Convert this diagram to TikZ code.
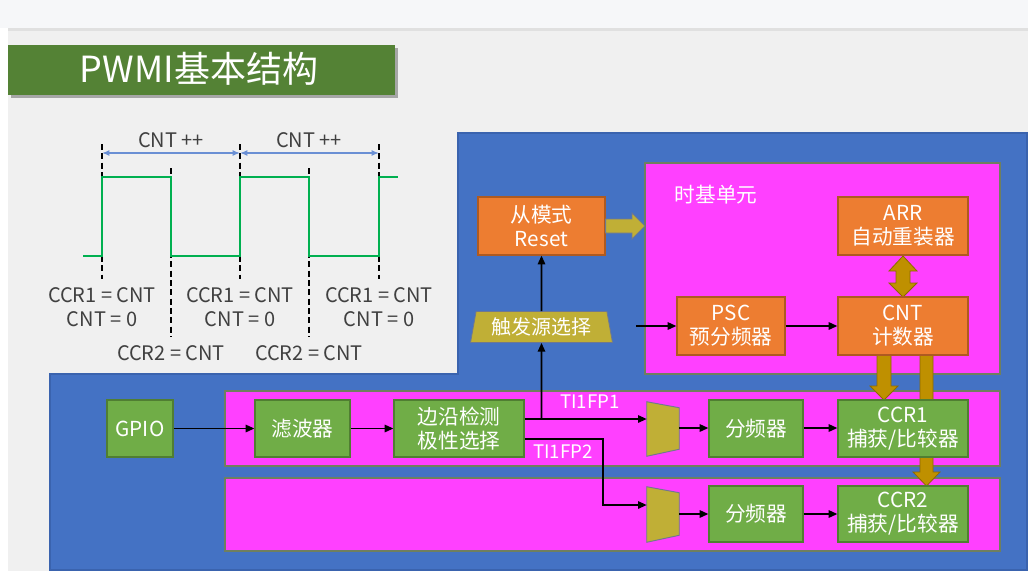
\documentclass[tikz,border=0pt]{standalone}
\usepackage{fontspec}
\setmainfont{Noto Sans CJK SC}
\usetikzlibrary{arrows.meta,shapes.geometric,calc}
\definecolor{bgc}{HTML}{F0F0F0}
\definecolor{topc}{HTML}{F6F7F9}
\definecolor{titleg}{HTML}{548235}
\definecolor{blu}{HTML}{4472C4}
\definecolor{blud}{HTML}{3A63AE}
\definecolor{mag}{HTML}{FF40FF}
\definecolor{magb}{HTML}{6F7F5F}
\definecolor{org}{HTML}{ED7D31}
\definecolor{orgb}{HTML}{AE5A21}
\definecolor{grn}{HTML}{70AD47}
\definecolor{grnb}{HTML}{507E32}
\definecolor{olv}{HTML}{C0AF36}
\definecolor{olvb}{HTML}{6F7890}
\definecolor{gld}{HTML}{BF9000}
\definecolor{gldb}{HTML}{8C6A00}
\definecolor{sig}{HTML}{00B050}
\definecolor{dim}{HTML}{6A8FD4}
\definecolor{txt}{HTML}{404040}
\begin{document}
\begin{tikzpicture}[x=0.75pt,y=-0.75pt,
  blk/.style={draw=#1b, fill=#1, line width=0.9pt, text=white, align=center, inner sep=0pt,
    font=\fontsize{15.5}{18}\selectfont},
  wh/.style 2 args={minimum width={#1*0.75pt}, minimum height={#2*0.75pt}},
  sig/.style={draw=black, line width=1.3pt, -{Triangle[length=6.5pt,width=5.5pt]}},
  vdash/.style={draw=black, line width=1.2pt, dash pattern=on 4.5pt off 2.5pt},
  wave/.style={draw=sig, line width=1.6pt},
  dimarr/.style={draw=dim, line width=1pt, {Latex[length=5.5pt,width=4.5pt]}-{Latex[length=5.5pt,width=4.5pt]}},
  tlab/.style={text=txt, font=\fontsize{15}{18}\selectfont, align=center, inner sep=0pt},
  wlab/.style={text=white, inner sep=0pt},
  fatarrow/.style={fill=gld, draw=gldb, line width=0.6pt},
  ]
\useasboundingbox (0,0) rectangle (1028,571);
% background
\fill[bgc] (0,0) rectangle (1028,571);
\fill[topc] (0,0) rectangle (1028,28);
\fill[white] (0,28) rectangle (8,571);
\fill[black!12] (8,28) rectangle (1028,31);
% title
\fill[black!35] (11,48) rectangle (398,98);
\node[fill=titleg, minimum width={387*0.75pt}, minimum height={50*0.75pt}, inner sep=0pt, anchor=north west] (title) at (8,45) {};
\node[text=white, font=\fontsize{27}{30}\selectfont] (titletext) at (199,69) {PWMI基本结构};
% blue region
\fill[blu, draw=blud, line width=0.8pt] (458,133) -- (1027,133) -- (1027,570) -- (50,570) -- (50,374) -- (458,374) -- cycle;
% magenta panels
\draw[fill=mag, draw=magb, line width=0.8pt] (645,163) rectangle (1000,374);
\draw[fill=mag, draw=magb, line width=0.8pt] (225,391) rectangle (1000,466);
\draw[fill=mag, draw=magb, line width=0.8pt] (225,478) rectangle (1000,551);
\node[wlab, font=\fontsize{15.5}{18}\selectfont] (tbl) at (716,195) {时基单元};
% timing diagram
\foreach \x in {102,240,379}{
  \draw[vdash] (\x,144) -- (\x,279);
}
\foreach \x in {171,309}{
  \draw[vdash] (\x,168) -- (\x,337);
}
\draw[wave] (83,256) -- (102,256) -- (102,177) -- (171,177) -- (171,256) -- (240,256) -- (240,177) -- (309,177) -- (309,256) -- (379,256) -- (379,177) -- (398,177);
\coordinate (d1) at (102,153);
\coordinate (d2) at (240,153);
\coordinate (d3) at (379,153);
\draw[dimarr] (d1) -- (d2);
\draw[dimarr] (d2) -- (d3);
\node[tlab] (cp1) at (171,140) {CNT ++};
\node[tlab] (cp2) at (309,140) {CNT ++};
\foreach \x/\n in {102/1,240/2,379/3}{
  \node[tlab] (ccr1l\n) at (\x,295) {CCR1 = CNT};
  \node[tlab] (cnt0l\n) at (\x,319) {CNT = 0};
}
\node[tlab] (ccr2l1) at (171,353) {CCR2 = CNT};
\node[tlab] (ccr2l2) at (309,353) {CCR2 = CNT};
% fat arrows (drawn first so boxes cover their ends)
\fill[fatarrow] (903,256) -- (917,271) -- (910,271) -- (910,283) -- (917,283) -- (903,297) -- (889,283) -- (896,283) -- (896,271) -- (889,271) -- cycle;
\fill[fatarrow] (920,350) -- (933,350) -- (933,472) -- (940,472) -- (926.5,486) -- (913,472) -- (920,472) -- cycle;
\fill[fatarrow] (877,350) -- (891,350) -- (891,386) -- (898,386) -- (884,400) -- (870,386) -- (877,386) -- cycle;
% orange boxes
\node[blk=org, wh={127}{58}] (slave) at (541.5,226) {从模式\\Reset};
\node[blk=org, wh={130}{58}] (arr) at (903,226) {ARR\\自动重装器};
\node[blk=org, wh={108}{58}] (psc) at (731,326) {PSC\\预分频器};
\node[blk=org, wh={130}{58}] (cnt) at (903,326) {CNT\\计数器};
% trigger select
\node[trapezium, trapezium stretches=true, trapezium left angle=77, trapezium right angle=77,
  minimum width={143*0.75pt}, minimum height={31*0.75pt}, inner sep=0pt,
  fill=olv, draw=olvb, line width=0.6pt, text=white, font=\fontsize{15}{18}\selectfont] (trig) at (541.5,327) {触发源选择};
% green boxes
\node[blk=grn, wh={66}{57}] (gpio) at (140,428.5) {GPIO};
\node[blk=grn, wh={95}{57}] (filt) at (302.5,428.5) {滤波器};
\node[blk=grn, wh={130}{57}] (edge) at (459,428.5) {边沿检测\\极性选择};
\node[blk=grn, wh={94}{57}] (div1) at (756,428.5) {分频器};
\node[blk=grn, wh={130}{57}] (ccr1) at (903,428.5) {CCR1\\捕获/比较器};
\node[blk=grn, wh={94}{56}] (div2) at (756,514) {分频器};
\node[blk=grn, wh={130}{56}] (ccr2) at (903,514) {CCR2\\捕获/比较器};
% muxes
\node[inner sep=0pt, wh={32}{54}] (mux1) at (663,429) {};
\node[inner sep=0pt, wh={32}{55}] (mux2) at (663,514.5) {};
\foreach \m in {mux1,mux2}{
  \fill[olv, draw=olvb, line width=0.7pt] (\m.north west) -- ($(\m.north east)+(0,6)$) -- ($(\m.south east)+(0,-7)$) -- (\m.south west) -- cycle;
}
% fat arrow slave -> time base
\fill[olv, draw=olvb, line width=0.6pt] (slave.east |- 0,219) -- (632,219) -- (632,213) -- (645,226) -- (632,239) -- (632,233) -- (slave.east |- 0,233) -- cycle;
% signal connectors
\draw[sig] (gpio) -- (filt);
\draw[sig] (filt) -- (edge);
\coordinate (tap) at (541.5,419);
\draw[sig] (edge.east |- tap) -- (mux1.west |- tap);
\draw[sig] (tap) -- (trig.south);
\draw[sig] (trig.north) -- (slave.south);
\coordinate (pscin) at (636,326);
\draw[sig] (pscin) -- (psc.west);
\draw[sig] (psc) -- (cnt);
\coordinate (fp2) at (603,439);
\draw[sig] (edge.east |- fp2) -- (fp2) -- (603,505) -- (mux2.west |- 0,505);
\draw[sig] (mux1.east |- 0,428) -- (div1.west |- 0,428);
\draw[sig] (div1.east |- 0,428) -- (ccr1.west |- 0,428);
\draw[sig] (mux2.east |- 0,514) -- (div2.west);
\draw[sig] (div2) -- (ccr2);
\node[wlab, font=\fontsize{14}{16}\selectfont] (fp1l) at (590,402) {TI1FP1};
\node[wlab, font=\fontsize{14}{16}\selectfont] (fp2l) at (563,452) {TI1FP2};
\end{tikzpicture}
\end{document}
